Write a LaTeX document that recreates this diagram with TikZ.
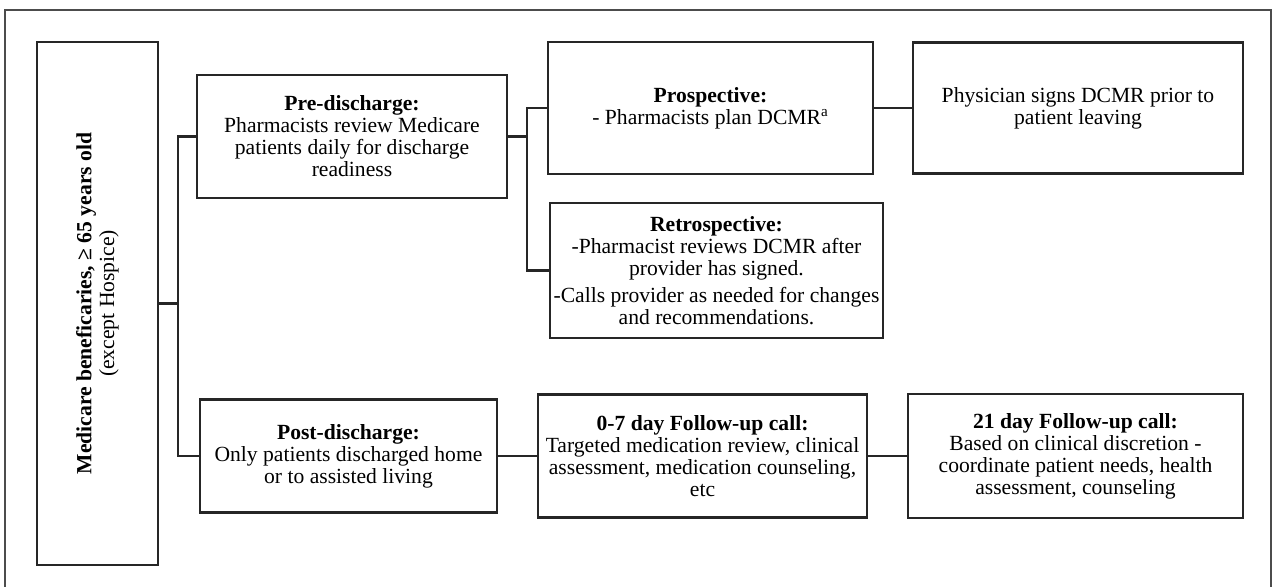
\documentclass[tikz,border=0pt]{standalone}
\usepackage{fontspec}
\setmainfont{Liberation Serif}
\tikzset{
    box/.style={draw=black!85, line width=1.4pt, align=center, inner sep=1pt,
        font=\fontsize{12.3}{12.5}\selectfont},
    link/.style={draw=black!85, line width=1.4pt},
}
\begin{document}
\begin{tikzpicture}[x=0.02cm, y=-0.02cm]
            % Frame
            \useasboundingbox (0,0) rectangle (1275,587);
            \draw[draw=black!70, line width=0.6pt] (5,587) -- (5,10) -- (1271,10) -- (1271,587);

            % Population
            \node[box, minimum width=2.42cm, minimum height=10.46cm] (main) at (97.5,303.5) {};
            \node[rotate=90, align=center, font=\fontsize{12.3}{13}\selectfont] (mainlbl) at (main.center)
            {\textbf{Medicare beneficaries, ≥ 65 years old}\\(except Hospice)};

            % Pre-discharge branch
            \node[box, minimum width=6.2cm, minimum height=2.46cm] (pre) at (352,136.5)
            {\textbf{Pre-discharge:}\\Pharmacists review Medicare\\patients daily for discharge\\readiness};
            \node[box, minimum width=6.5cm, minimum height=2.64cm] (prosp) at (710.5,108)
            {\textbf{Prospective:}\\- Pharmacists plan DCMR\textsuperscript{a}};
            \node[box, minimum width=6.6cm, minimum height=2.62cm] (phys) at (1078,108)
            {Physician signs DCMR prior to\\patient leaving};
            \node[box, minimum width=6.66cm, minimum height=2.7cm] (retro) at (716.5,270.5)
            {\textbf{Retrospective:}\\-Pharmacist reviews DCMR after\\provider has signed.\\[3pt]
            -Calls provider as needed for changes\\and recommendations.};

            % Post-discharge branch
            \node[box, minimum width=5.94cm, minimum height=2.26cm] (post) at (348.5,456)
            {\textbf{Post-discharge:}\\Only patients discharged home\\or to assisted living};
            \node[box, minimum width=6.58cm, minimum height=2.46cm] (fu07) at (702.5,456)
            {\textbf{0-7 day Follow-up call:}\\Targeted medication review, clinical\\assessment, medication counseling,\\etc};
            \node[box, minimum width=6.7cm, minimum height=2.48cm] (fu21) at (1075.5,456)
            {\textbf{21 day Follow-up call:}\\Based on clinical discretion -\\coordinate patient needs, health\\assessment, counseling};

            % Connectors
            \coordinate (split1) at (178,303.5);
            \coordinate (split2) at (527,136.5);
            \draw[link] (main.east) -- (split1);
            \draw[link] (pre.west) -| (split1) |- (post.west);
            \draw[link] (pre.east) -- (split2);
            \draw[link] (prosp.west) -| (split2) |- (retro.west);
            \draw[link] (prosp.east) -- (phys.west);
            \draw[link] (post.east) -- (fu07.west);
            \draw[link] (fu07.east) -- (fu21.west);
        \end{tikzpicture}
\end{document}
